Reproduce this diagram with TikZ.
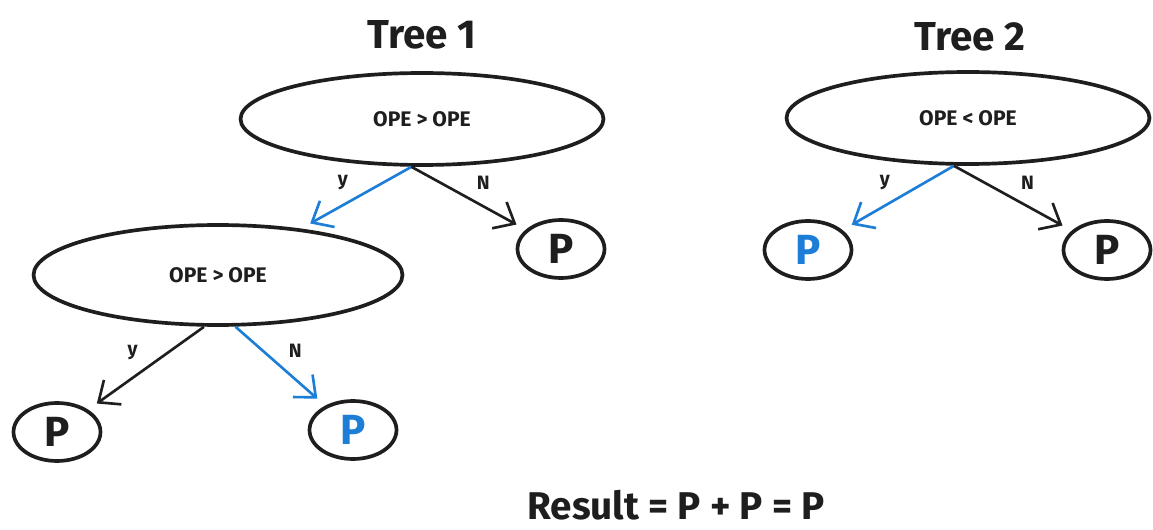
\documentclass[tikz,border=0pt]{standalone}
\usepackage{fontspec}
\setmainfont{Fira Sans}
\usetikzlibrary{arrows.meta,positioning,shapes}
\usepackage{xcolor}
\definecolor{inkblack}{HTML}{1E1E1E}
\definecolor{pathblue}{HTML}{1C7ED6}

\begin{document}
\begin{tikzpicture}[
  x=0.02cm, y=-0.02cm,
  every node/.style={font=\fontsize{12}{14}\selectfont\bfseries, text=inkblack},
  test/.style={draw=inkblack, ellipse, line width=2.1pt, minimum width=7.26cm, minimum height=1.84cm, inner sep=0pt},
  leaf/.style={draw=inkblack, ellipse, line width=2.1pt, minimum width=1.74cm, minimum height=1.16cm, inner sep=0pt, font=\fontsize{24}{26}\selectfont\bfseries},
  arr/.style={-{Straight Barb[length=3.5mm, width=6mm]}, line width=1.5pt, draw=inkblack, shorten >=6pt},
  hit/.style={draw=pathblue},
  lbl/.style={font=\fontsize{11}{12}\selectfont\bfseries, inner sep=4pt},
  title/.style={font=\fontsize{23}{26}\selectfont\bfseries},
]
  \useasboundingbox[fill=white] (0,0) rectangle (1153,530);

  % Tree 1
  \node[title] (tt1) at (422,35) {Tree 1};
  \node[test] (r1) at (422,119) {OPE > OPE};
  \node[test, minimum width=7.38cm, minimum height=2cm] (c1) at (218,275) {OPE > OPE};
  \node[leaf] (l1) at (561,249) {P};
  \node[leaf] (l2) at (57,432) {P};
  \node[leaf, text=pathblue] (l3) at (353,430) {P};

  % Tree 2
  \node[title] (tt2) at (970,37) {Tree 2};
  \node[test] (r2) at (968,118) {OPE < OPE};
  \node[leaf, text=pathblue] (l4) at (808,250) {P};
  \node[leaf] (l5) at (1107,250) {P};

  % Result
  \node[font=\fontsize{22}{24}\selectfont\bfseries] (res) at (676,505) {Result = P + P = P};

  % Edges
  \draw[arr, hit] ([xshift=-6]r1.south) -- node[lbl, above left]{y} (c1);
  \draw[arr] ([xshift=-6]r1.south) -- node[lbl, above right]{N} (l1);
  \draw[arr] ([xshift=-8]c1.south) -- node[lbl, above left]{y} (l2);
  \draw[arr, hit] ([xshift=10]c1.south) -- node[lbl, above right]{N} (l3);
  \draw[arr, hit] ([xshift=-8]r2.south) -- node[lbl, above left]{y} (l4);
  \draw[arr] ([xshift=-8]r2.south) -- node[lbl, above right]{N} (l5);
\end{tikzpicture}
\end{document}
